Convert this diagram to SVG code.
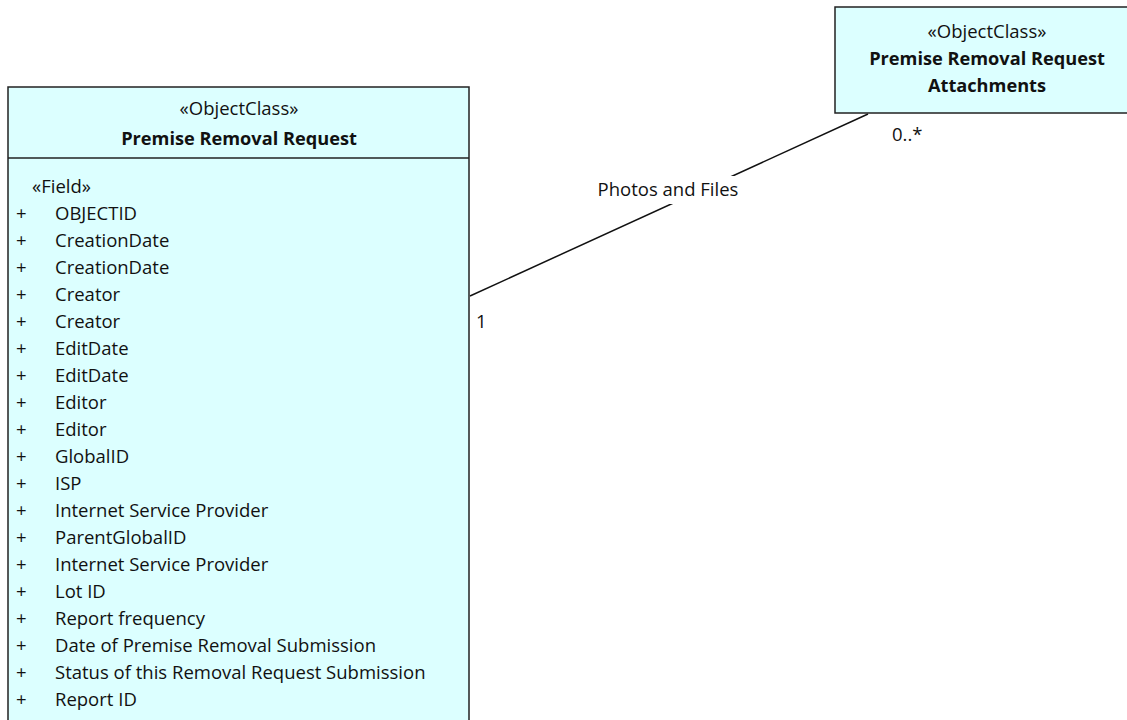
<svg xmlns="http://www.w3.org/2000/svg" width="1127" height="720" viewBox="0 0 1127 720">
<style>
.box{fill:#dcffff;stroke:#222;stroke-width:1.5}
.t{font-family:"Open Sans","Noto Sans",sans-serif;font-size:18.5px;fill:#111}
.b{font-weight:bold;font-size:18.2px}
.c{text-anchor:middle}
.conn{stroke:#111;stroke-width:1.5;fill:none}
</style>
<rect width="1127" height="720" fill="#fff"/>
<g id="connectors">
<line class="conn" x1="470" y1="296" x2="868" y2="114"/>
<rect x="597" y="176" width="143" height="28" fill="#fff"/>
<text class="t c" x="668" y="196">Photos and Files</text>
<text class="t" x="476" y="328">1</text>
<text class="t" x="892" y="141">0..*</text>
</g>
<g id="node-attachments">
<rect class="box" x="835" y="7" width="310" height="106"/>
<text class="t c" x="987" y="38">«ObjectClass»</text>
<text class="t c b" x="987" y="65">Premise Removal Request</text>
<text class="t c b" x="987" y="92">Attachments</text>
</g>
<g id="node-request">
<rect class="box" x="8" y="87" width="461" height="650"/>
<line x1="8" y1="158" x2="469" y2="158" stroke="#222" stroke-width="1.5"/>
<text class="t c" x="239" y="115">«ObjectClass»</text>
<text class="t c b" x="239" y="145">Premise Removal Request</text>
<text class="t" x="32" y="193">«Field»</text>
<g class="t">
<text x="16" y="220">+</text><text x="55" y="220">OBJECTID</text>
<text x="16" y="247">+</text><text x="55" y="247">CreationDate</text>
<text x="16" y="274">+</text><text x="55" y="274">CreationDate</text>
<text x="16" y="301">+</text><text x="55" y="301">Creator</text>
<text x="16" y="328">+</text><text x="55" y="328">Creator</text>
<text x="16" y="355">+</text><text x="55" y="355">EditDate</text>
<text x="16" y="382">+</text><text x="55" y="382">EditDate</text>
<text x="16" y="409">+</text><text x="55" y="409">Editor</text>
<text x="16" y="436">+</text><text x="55" y="436">Editor</text>
<text x="16" y="463">+</text><text x="55" y="463">GlobalID</text>
<text x="16" y="490">+</text><text x="55" y="490">ISP</text>
<text x="16" y="517">+</text><text x="55" y="517">Internet Service Provider</text>
<text x="16" y="544">+</text><text x="55" y="544">ParentGlobalID</text>
<text x="16" y="571">+</text><text x="55" y="571">Internet Service Provider</text>
<text x="16" y="598">+</text><text x="55" y="598">Lot ID</text>
<text x="16" y="625">+</text><text x="55" y="625">Report frequency</text>
<text x="16" y="652">+</text><text x="55" y="652">Date of Premise Removal Submission</text>
<text x="16" y="679">+</text><text x="55" y="679">Status of this Removal Request Submission</text>
<text x="16" y="706">+</text><text x="55" y="706">Report ID</text>
</g>
</g>
</svg>
